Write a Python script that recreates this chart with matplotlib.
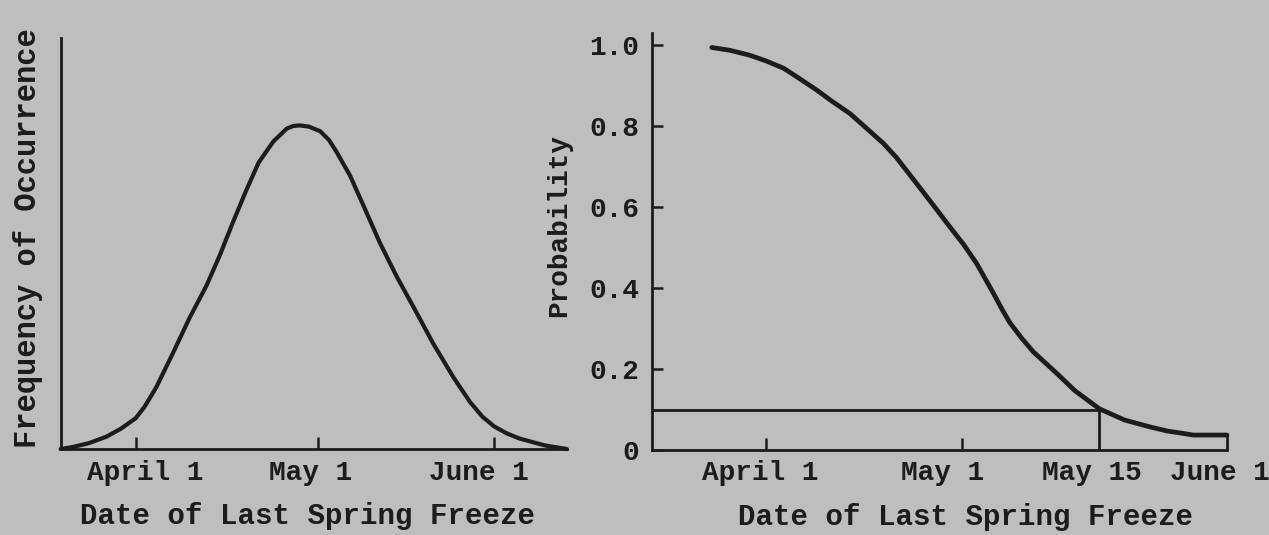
import matplotlib
matplotlib.use("Agg")
import matplotlib.pyplot as plt
from matplotlib.ticker import FixedLocator, NullFormatter

PAPER = "#bebec0"
INK = "#1c1c1c"
FONT = "Liberation Mono"

# x values are days after April 1, as drawn in the picture
freq_days = [-12.8, -10.8, -8.0, -5.0, -2.5, 0.0, 1.5, 3.5, 6.2, 9.2, 12.1, 14.4,
             16.6, 18.9, 21.0, 23.5, 25.8, 26.9, 28.0, 29.6, 31.5, 33.0, 34.3,
             36.6, 38.9, 41.7, 44.6, 47.4, 50.8, 54.2, 57.1, 59.2, 61.2, 63.4,
             65.6, 69.9, 73.6]
freq_vals = [0.0, 0.006, 0.018, 0.038, 0.063, 0.095, 0.13, 0.19, 0.29, 0.405,
             0.505, 0.60, 0.70, 0.80, 0.885, 0.95, 0.99, 0.998, 1.0, 0.996,
             0.982, 0.955, 0.918, 0.845, 0.752, 0.637, 0.532, 0.440, 0.326,
             0.223, 0.145, 0.10, 0.07, 0.048, 0.032, 0.011, 0.0]
freq_ticks = [0.0, 31.1, 61.2]
freq_label_pos = [1.6, 29.9, 58.6]
freq_labels = ["April 1", "May 1", "June 1"]

prob_days = [-8.3, -5.5, -2.5, 0.0, 2.7, 5.0, 7.8, 10.0, 12.9, 15.0, 18.0, 20.0,
             23.1, 25.5, 28.2, 30.3, 32.3, 34.9, 36.2, 37.4, 39.2, 41.0, 44.6,
             47.4, 51.1, 55.0, 58.9, 61.5, 64.0, 65.5, 70.7]
prob_vals = [0.993, 0.986, 0.974, 0.96, 0.942, 0.918, 0.888, 0.862, 0.830, 0.80,
             0.757, 0.722, 0.658, 0.608, 0.551, 0.508, 0.461, 0.387, 0.348,
             0.315, 0.277, 0.243, 0.190, 0.147, 0.103, 0.075, 0.058, 0.048,
             0.042, 0.038, 0.038]
prob_ticks = [0.0, 30.0]
prob_label_pos = [-0.8, 27.1, 50.0, 69.6]
prob_labels = ["April 1", "May 1", "May 15", "June 1"]
prob_yticks = [0.0, 0.2, 0.4, 0.6, 0.8, 1.0]
prob_ylabels = ["0", "0.2", "0.4", "0.6", "0.8", "1.0"]
may15_day = 51.1
threshold = 0.10

fig = plt.figure(figsize=(12.69, 5.35), dpi=100, facecolor=PAPER)


def style_axes(ax):
    ax.set_facecolor(PAPER)
    for side in ("top", "right"):
        ax.spines[side].set_visible(False)
    for side in ("left", "bottom"):
        ax.spines[side].set_color(INK)
        ax.spines[side].set_linewidth(2.0)
    ax.xaxis.set_major_locator(FixedLocator([]))


def bold_mono(labels):
    for t in labels:
        t.set_fontfamily(FONT)
        t.set_fontweight("bold")


# left: frequency curve
ax1 = fig.add_axes([0.0478, 0.1607, 0.3988, 0.7683])
style_axes(ax1)
ax1.plot(freq_days, freq_vals, color=INK, lw=3.0, solid_capstyle="round",
         solid_joinstyle="round", clip_on=False)
ax1.set_xlim(-12.8, 73.6)
ax1.set_ylim(0, 1.27)
ax1.set_yticks([])
ax1.set_xticks(freq_label_pos)
ax1.set_xticklabels(freq_labels)
ax1.xaxis.set_minor_locator(FixedLocator(freq_ticks))
ax1.xaxis.set_minor_formatter(NullFormatter())
ax1.tick_params(axis="x", which="major", length=0, pad=8, labelsize=20,
                labelcolor=INK)
ax1.tick_params(axis="x", which="minor", direction="in", length=9, width=1.8,
                color=INK)
bold_mono(ax1.get_xticklabels())
ax1.set_xlabel("Date of Last Spring Freeze", fontsize=21, family=FONT,
               fontweight="bold", color=INK)
ax1.xaxis.set_label_coords(0.488, -0.13)
ax1.set_ylabel("Frequency of Occurrence", fontsize=22, family=FONT,
               fontweight="bold", color=INK)
ax1.yaxis.set_label_coords(-0.034, 0.513)

# right: probability curve
ax2 = fig.add_axes([0.5136, 0.158, 0.4533, 0.7798])
style_axes(ax2)
ax2.plot(prob_days, prob_vals, color=INK, lw=3.4, solid_capstyle="round",
         solid_joinstyle="round", clip_on=False)
ax2.hlines(threshold, -17.5, may15_day, color=INK, lw=2.0)
ax2.vlines(may15_day, 0, threshold, color=INK, lw=2.0)
ax2.vlines(prob_days[-1], 0, prob_vals[-1], color=INK, lw=2.0, clip_on=False)
ax2.set_xlim(-17.5, 70.7)
ax2.set_ylim(0, 1.028)
ax2.set_yticks(prob_yticks)
ax2.set_yticklabels(prob_ylabels)
ax2.tick_params(axis="y", direction="in", length=8, width=1.8, color=INK,
                pad=9, labelsize=20, labelcolor=INK)
ax2.set_xticks(prob_label_pos)
ax2.set_xticklabels(prob_labels)
ax2.xaxis.set_minor_locator(FixedLocator(prob_ticks))
ax2.xaxis.set_minor_formatter(NullFormatter())
ax2.tick_params(axis="x", which="major", length=0, pad=7, labelsize=20,
                labelcolor=INK)
ax2.tick_params(axis="x", which="minor", direction="in", length=9, width=1.8,
                color=INK)
bold_mono(ax2.get_xticklabels() + ax2.get_yticklabels())
ax2.set_xlabel("Date of Last Spring Freeze", fontsize=21, family=FONT,
               fontweight="bold", color=INK)
ax2.xaxis.set_label_coords(0.546, -0.125)
ax2.set_ylabel("Probability", fontsize=20, family=FONT, fontweight="bold",
               color=INK)
ax2.yaxis.set_label_coords(-0.139, 0.538)

fig.savefig("out.png", dpi=100, facecolor=PAPER)
